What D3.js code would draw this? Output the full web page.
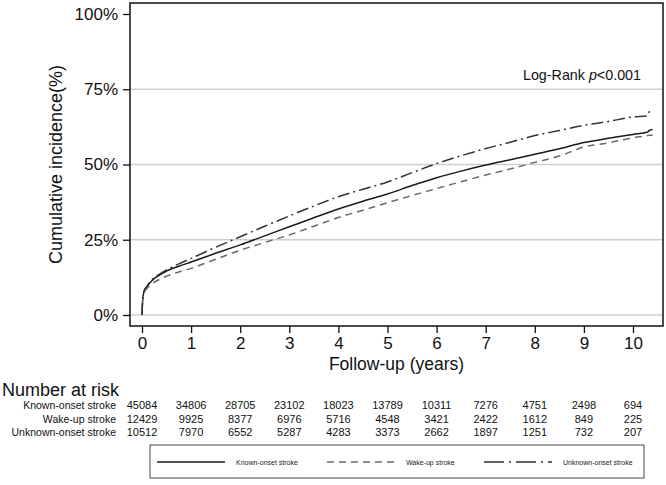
<!DOCTYPE html>
<html>
<head>
<meta charset="utf-8">
<script src="https://cdn.jsdelivr.net/npm/d3@7"></script>
<style>
  body { margin: 0; background: #fff; }
  svg { font-family: "Liberation Sans", Arial, sans-serif; }
  .tick text { font-size: 17px; fill: #111; }
  .tick line { stroke: #111; stroke-width: 1.3; }
</style>
</head>
<body>
<svg id="chart"></svg>
<script>
const width = 666;
const height = 485;

// follow-up time (years) and cumulative incidence (%) per group
const times = [0, 0.01, 0.03, 0.06, 0.1, 0.2, 0.35, 0.5, 0.75, 1, 1.5, 2, 2.5, 3, 3.5, 4, 4.5, 5, 5.5, 6, 6.5, 7, 7.5, 8, 8.5, 9, 9.5, 10, 10.3, 10.33, 10.4];
const knownOnset = [0, 4, 7, 8.5, 9.4, 11.4, 13.2, 14.6, 16.2, 17.6, 20.5, 23.3, 26.3, 29.3, 32.3, 35.2, 37.8, 40.2, 43, 45.6, 47.8, 49.8, 51.6, 53.4, 55.2, 57.3, 58.7, 60, 60.8, 61.3, 61.6];
const wakeUp = [0, 4, 6.8, 8, 8.8, 10.3, 11.8, 12.9, 14.3, 15.5, 18.5, 21.5, 24.1, 26.6, 29.5, 32.4, 34.8, 37.3, 39.7, 42, 44.3, 46.5, 48.5, 50.7, 52.8, 55.8, 57.2, 58.9, 59.6, 59.7, 59.7];
const unknownOnset = [0, 4, 7, 8.6, 9.6, 11.7, 13.5, 15, 17, 18.8, 22.5, 26, 29.5, 32.9, 36.2, 39.3, 41.8, 44.2, 47.3, 50.3, 52.9, 55.3, 57.4, 59.6, 61.3, 63, 64.3, 65.8, 66.2, 67.5, 67.6];

const xTicks = [0, 1, 2, 3, 4, 5, 6, 7, 8, 9, 10];
const yTicks = [0, 25, 50, 75, 100];
const gridValues = [0, 25, 50, 75];

const riskGroups = ["Known-onset stroke", "Wake-up stroke", "Unknown-onset stroke"];
const riskKnown = [45084, 34806, 28705, 23102, 18023, 13789, 10311, 7276, 4751, 2498, 694];
const riskWake = [12429, 9925, 8377, 6976, 5716, 4548, 3421, 2422, 1612, 849, 225];
const riskUnknown = [10512, 7970, 6552, 5287, 4283, 3373, 2662, 1897, 1251, 732, 207];

const series = [
  { name: "Known-onset stroke", values: knownOnset, color: "#1a1a1a", dash: null },
  { name: "Wake-up stroke", values: wakeUp, color: "#6a6a6a", dash: "7,5" },
  { name: "Unknown-onset stroke", values: unknownOnset, color: "#333", dash: "12,4,2,4" }
];

const frame = { left: 130, top: 3, right: 663, bottom: 326 };

const svg = d3.select("#chart").attr("width", width).attr("height", height);

const x = d3.scaleLinear().domain([0, 10]).range([142, 633]);
const y = d3.scaleLinear().domain([0, 100]).range([315, 14]);

// gridlines
svg.append("g")
  .selectAll("line")
  .data(gridValues)
  .join("line")
  .attr("x1", frame.left)
  .attr("x2", frame.right)
  .attr("y1", d => y(d))
  .attr("y2", d => y(d))
  .attr("stroke", "#cfcfcf")
  .attr("stroke-width", 1.3);

// axes
const xAxis = svg.append("g")
  .attr("transform", `translate(0, ${frame.bottom})`)
  .call(d3.axisBottom(x).tickValues(xTicks).tickSize(7).tickPadding(4).tickFormat(d3.format("d")));
xAxis.select(".domain").remove();

const yAxis = svg.append("g")
  .attr("transform", `translate(${frame.left}, 0)`)
  .call(d3.axisLeft(y).tickValues(yTicks).tickSize(7).tickPadding(5).tickFormat(d => d + "%"));
yAxis.select(".domain").remove();

// curves
const line = d3.line()
  .x((d, i) => x(times[i]))
  .y(d => y(d))
  .curve(d3.curveMonotoneX);

svg.append("g")
  .selectAll("path")
  .data(series)
  .join("path")
  .attr("d", d => line(d.values))
  .attr("fill", "none")
  .attr("stroke", d => d.color)
  .attr("stroke-width", 1.5)
  .attr("stroke-dasharray", d => d.dash);

// frame
svg.append("rect")
  .attr("x", frame.left)
  .attr("y", frame.top)
  .attr("width", frame.right - frame.left)
  .attr("height", frame.bottom - frame.top)
  .attr("fill", "none")
  .attr("stroke", "#111")
  .attr("stroke-width", 1.5);

// axis titles
svg.append("text")
  .attr("x", (frame.left + frame.right) / 2)
  .attr("y", 370)
  .attr("text-anchor", "middle")
  .attr("font-size", 17.5)
  .attr("fill", "#111")
  .text("Follow-up (years)");

svg.append("text")
  .attr("transform", `translate(62, ${y(50)}) rotate(-90)`)
  .attr("text-anchor", "middle")
  .attr("font-size", 18)
  .attr("fill", "#111")
  .text("Cumulative incidence(%)");

const logRank = svg.append("text")
  .attr("x", 641)
  .attr("y", 80)
  .attr("text-anchor", "end")
  .attr("font-size", 14.3)
  .attr("fill", "#111");
logRank.append("tspan").text("Log-Rank ");
logRank.append("tspan").attr("font-style", "italic").text("p");
logRank.append("tspan").text("<0.001");

// number at risk table
svg.append("text")
  .attr("x", 2)
  .attr("y", 396)
  .attr("font-size", 18)
  .attr("fill", "#111")
  .text("Number at risk");

const riskRows = [riskKnown, riskWake, riskUnknown];
const rowY = [409, 423, 436];

riskRows.forEach((row, r) => {
  svg.append("text")
    .attr("x", 116)
    .attr("y", rowY[r])
    .attr("text-anchor", "end")
    .attr("font-size", 10.5)
    .attr("fill", "#111")
    .text(riskGroups[r]);

  svg.append("g")
    .selectAll("text")
    .data(row)
    .join("text")
    .attr("x", (d, i) => x(xTicks[i]))
    .attr("y", rowY[r])
    .attr("text-anchor", "middle")
    .attr("font-size", 11)
    .attr("fill", "#111")
    .text(d => d);
});

// legend
const legend = svg.append("g");

legend.append("rect")
  .attr("x", 150)
  .attr("y", 445)
  .attr("width", 494)
  .attr("height", 33)
  .attr("fill", "#fff")
  .attr("stroke", "#444")
  .attr("stroke-width", 1);

const legendX = [157, 327, 484];

series.forEach((s, i) => {
  legend.append("line")
    .attr("x1", legendX[i])
    .attr("x2", legendX[i] + 68)
    .attr("y1", 462)
    .attr("y2", 462)
    .attr("stroke", s.color)
    .attr("stroke-width", 1.3)
    .attr("stroke-dasharray", i === 2 ? "20,5,2,5" : s.dash);

  legend.append("text")
    .attr("x", legendX[i] + 79)
    .attr("y", 464.5)
    .attr("font-size", 7)
    .attr("fill", "#222")
    .text(s.name);
});
</script>
</body>
</html>
